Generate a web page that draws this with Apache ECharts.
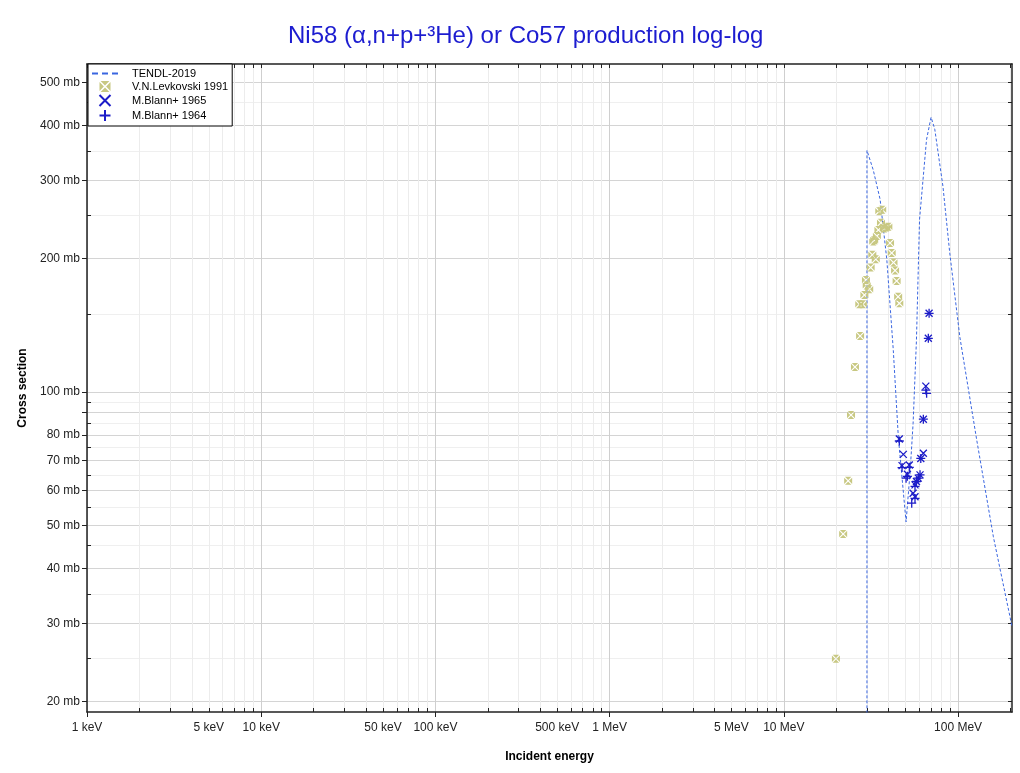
<!DOCTYPE html>
<html>
<head>
<meta charset="utf-8">
<script src="https://cdn.jsdelivr.net/npm/echarts@6/dist/echarts.min.js"></script>
<style>html,body{margin:0;padding:0;background:#fff}#c{width:1020px;height:773px}</style>
</head>
<body>
<div id="c"></div>
<script>
// Energies in MeV, cross sections in mb
const tendlE   = [30, 30, 32.6, 35.7, 39.0, 42.5, 45.4, 50.3, 53.0, 55.2, 57.7, 60.1, 65.9, 70.0, 73.5, 81.9, 89.6, 102.4, 128, 159.5, 198.9, 204];
const tendlXS  = [5, 351, 317, 272, 199, 124, 79.2, 50.9, 65.6, 84.9, 131, 245, 371, 417, 392, 291, 206, 133, 77.9, 47.1, 31.0, 29.5];

const levE  = [19.9, 21.9, 23.4, 24.3, 25.6, 27.4, 27.1, 28.4, 29.0, 29.9, 30.9, 29.6, 31.5, 33.7, 32.2, 32.6, 33.0, 34.2, 34.9, 36.1, 37.6, 38.7, 39.8, 35.3, 36.7, 40.7, 41.6, 42.6, 43.5, 44.4, 45.3, 46.0];
const levXS = [25.0, 47.8, 63.0, 88.7, 113.9, 133.8, 157.8, 157.8, 165.5, 174, 170.6, 179, 191, 199.3, 204, 218.5, 220, 225, 232, 241, 234, 235, 236, 256, 258, 217, 206, 196, 188, 178, 164, 158.5];

const b65E  = [46.0, 48.5, 47.7, 52.5, 63.2, 61.1, 51.2, 60.5, 59.1, 57.7, 56.6, 55.2, 56.6, 63.2, 65.3, 67.5, 68.2];
const b65XS = [78.3, 72.3, 68.2, 68.4, 72.7, 70.8, 65.2, 65.0, 63.9, 62.8, 61.7, 59.1, 58.0, 86.8, 103.1, 132.2, 150.5];

const b64E  = [46.0, 47.7, 52.5, 61.1, 51.2, 50.3, 60.5, 59.1, 57.7, 56.6, 56.6, 54.2, 63.2, 65.3, 66.0, 67.5, 68.2];
const b64XS = [77.5, 67.5, 67.6, 70.8, 64.5, 63.9, 65.0, 63.9, 62.8, 61.2, 57.5, 56.1, 86.8, 101, 99.3, 132.2, 150.5];

const xLabelTicks = [0.001, 0.005, 0.01, 0.05, 0.1, 0.5, 1, 5, 10, 100];
const xMajorTicks = [0.001, 0.01, 0.1, 1, 10, 100];
const yLabelTicks = [20, 30, 40, 50, 60, 70, 80, 100, 200, 300, 400, 500];
const yMajorTicks = [20, 30, 40, 50, 60, 70, 80, 90, 100, 200, 300, 400, 500];
const yMinorTicks = [25, 35, 45, 55, 65, 75, 85, 95, 150, 250, 350, 450];

const xMin = 0.001, xMax = 204, yMin = 18.95, yMax = 550;

const xMinorTicks = [];
[0.001, 0.01, 0.1, 1, 10, 100].forEach(d => { for (let k = 2; k <= 9; k++) { const v = +(d * k).toPrecision(6); if (v <= xMax) xMinorTicks.push(v); } });
const xAllTicks = xMajorTicks.concat(xMinorTicks);
const yAllTicks = yMajorTicks.concat(yMinorTicks);

const zip = (a, b) => a.map((v, i) => [v, b[i]]);
const FONT = 'Liberation Sans, Arial, sans-serif';
const BLUE = '#1c1cc8';
const KHAKI = '#c8c882';
const TBLUE = '#3a66e0';

const sqX = 'path://M1,0L9,0L5,4Z M10,1L10,9L6,5Z M9,10L1,10L5,6Z M0,9L0,1L4,5Z';
const crossX = 'path://M0,0L10,10M10,0L0,10';
const plus = 'path://M5,0L5,10M0,5L10,5';
const dashIcon = 'path://M0,0h6v2h-6z M10,0h6v2h-6z M20,0h6v2h-6z';

const chart = echarts.init(document.getElementById('c'));
const xfmt = v => v < 1 ? Math.round(v * 1000) + ' keV' : Math.round(v) + ' MeV';

const baseX = {type: 'log', logBase: 10, min: xMin, max: xMax, gridIndex: 0};
const baseY = {type: 'log', logBase: 10, min: yMin, max: yMax, gridIndex: 0};

chart.setOption({
  animation: false,
  backgroundColor: '#fff',
  title: {
    text: 'Ni58 (α,n+p+³He) or Co57 production log-log',
    left: 283, top: 19,
    textStyle: {color: '#1c1cd0', fontSize: 24, fontWeight: 'normal', fontFamily: FONT}
  },
  grid: {left: 87, right: 8, top: 64, bottom: 61, outerBoundsMode: 'none', containLabel: false},
  legend: {
    orient: 'vertical', left: 88, top: 64,
    backgroundColor: '#fff', borderColor: '#000', borderWidth: 1,
    padding: [4, 4, 4, 4], itemGap: 2, itemWidth: 26, itemHeight: 11,
    textStyle: {fontSize: 11, fontFamily: FONT, color: '#000', padding: [0, 0, 0, 9]},
    data: [
      {name: 'TENDL-2019', icon: dashIcon, itemStyle: {color: TBLUE}},
      {name: 'V.N.Levkovski 1991'},
      {name: 'M.Blann+ 1965'},
      {name: 'M.Blann+ 1964'}
    ]
  },
  xAxis: [
    Object.assign({}, baseX, {
      position: 'bottom',
      name: 'Incident energy', nameLocation: 'middle', nameGap: 39,
      nameTextStyle: {fontSize: 12, fontWeight: 'bold', fontFamily: FONT, color: '#000'},
      axisLine: {show: true, lineStyle: {color: '#222', width: 1.5}},
      axisTick: {show: true, inside: false, length: 5, customValues: xMajorTicks, lineStyle: {color: '#222'}},
      axisLabel: {customValues: xLabelTicks, formatter: xfmt, fontSize: 12, fontFamily: FONT, color: '#222', margin: 10},
      splitLine: {show: true, lineStyle: {color: '#cfcfcf', width: 1}}
    }),
    Object.assign({}, baseX, {
      position: 'bottom',
      axisLine: {show: false},
      axisTick: {show: true, inside: true, length: 4, customValues: xMinorTicks, lineStyle: {color: '#222'}},
      axisLabel: {show: false},
      splitLine: {show: true, lineStyle: {color: '#ececec', width: 1}}
    }),
    Object.assign({}, baseX, {
      position: 'top',
      axisLine: {show: true, lineStyle: {color: '#222', width: 1.5}},
      axisTick: {show: true, inside: true, length: 4, customValues: xAllTicks, lineStyle: {color: '#222'}},
      axisLabel: {show: false},
      splitLine: {show: false}
    })
  ],
  yAxis: [
    Object.assign({}, baseY, {
      position: 'left',
      name: 'Cross section', nameLocation: 'middle', nameGap: 54, nameRotate: 90,
      nameTextStyle: {fontSize: 12, fontWeight: 'bold', fontFamily: FONT, color: '#000'},
      axisLine: {show: true, lineStyle: {color: '#222', width: 1.5}},
      axisTick: {show: true, inside: false, length: 5, customValues: yMajorTicks, lineStyle: {color: '#222'}},
      axisLabel: {customValues: yLabelTicks, formatter: v => Math.round(v) + ' mb', fontSize: 12, fontFamily: FONT, color: '#222', margin: 7},
      splitLine: {show: true, lineStyle: {color: '#d4d4d4', width: 1}}
    }),
    Object.assign({}, baseY, {
      position: 'left',
      axisLine: {show: false},
      axisTick: {show: true, inside: true, length: 4, customValues: yMinorTicks, lineStyle: {color: '#222'}},
      axisLabel: {show: false},
      splitLine: {show: true, lineStyle: {color: '#efefef', width: 1}}
    }),
    Object.assign({}, baseY, {
      position: 'right',
      axisLine: {show: true, lineStyle: {color: '#222', width: 1.5}},
      axisTick: {show: true, inside: true, length: 4, customValues: yAllTicks, lineStyle: {color: '#222'}},
      axisLabel: {show: false},
      splitLine: {show: false}
    })
  ],
  series: [
    {
      name: 'TENDL-2019', type: 'line', xAxisIndex: 0, yAxisIndex: 0,
      data: zip(tendlE, tendlXS), symbol: 'none', clip: true,
      lineStyle: {color: TBLUE, width: 1, type: [3, 2]},
      itemStyle: {color: TBLUE}, z: 3
    },
    {
      name: 'V.N.Levkovski 1991', type: 'scatter', xAxisIndex: 0, yAxisIndex: 0,
      data: zip(levE, levXS), symbol: sqX, symbolSize: 8,
      itemStyle: {color: KHAKI, opacity: 1}, z: 4
    },
    {
      name: 'M.Blann+ 1965', type: 'scatter', xAxisIndex: 0, yAxisIndex: 0,
      data: zip(b65E, b65XS), symbol: crossX, symbolSize: 7,
      itemStyle: {color: 'rgba(0,0,0,0)', borderColor: BLUE, borderWidth: 1.3, opacity: 1}, z: 5
    },
    {
      name: 'M.Blann+ 1964', type: 'scatter', xAxisIndex: 0, yAxisIndex: 0,
      data: zip(b64E, b64XS), symbol: plus, symbolSize: 9,
      itemStyle: {color: 'rgba(0,0,0,0)', borderColor: BLUE, borderWidth: 1.3, opacity: 1}, z: 5
    }
  ]
});
</script>
</body>
</html>
